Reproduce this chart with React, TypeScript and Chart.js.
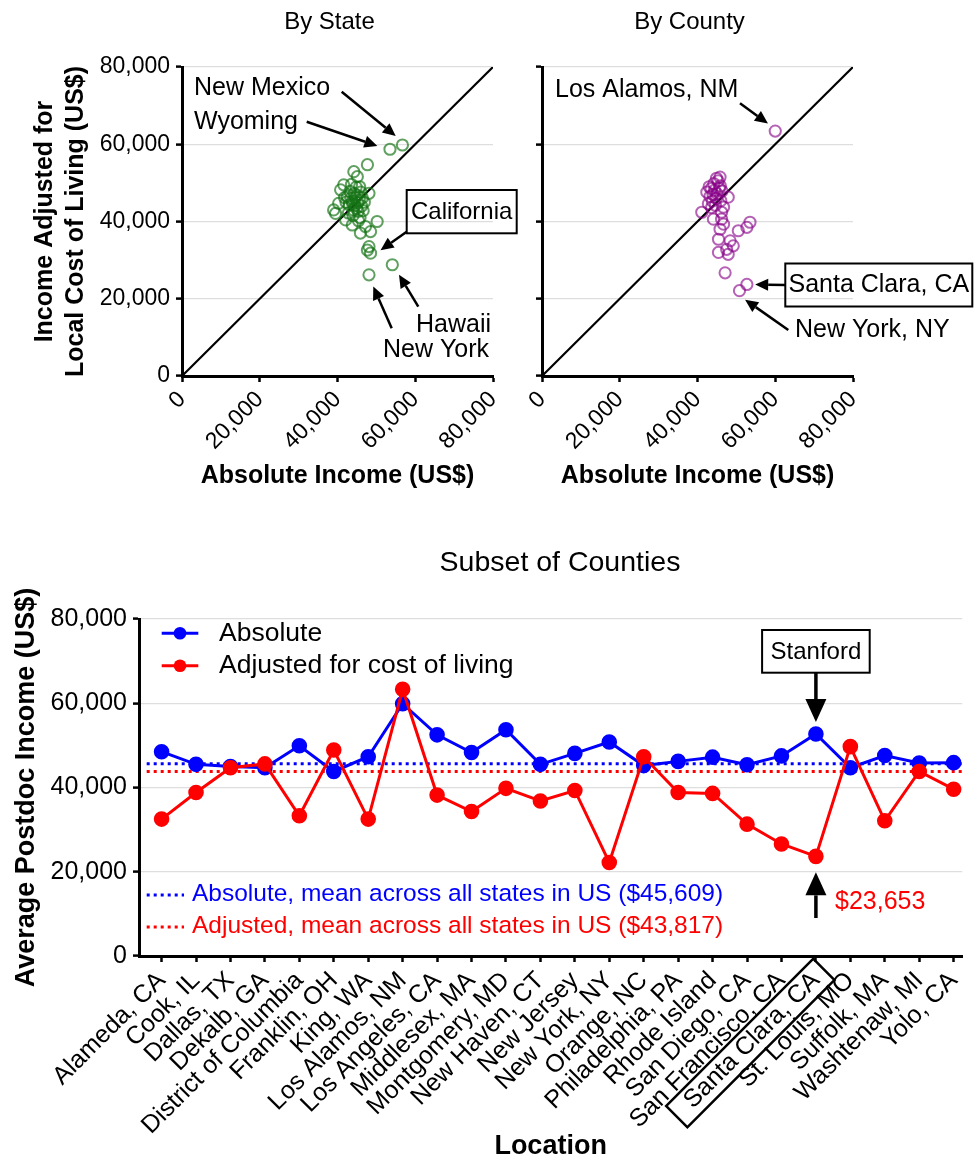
import React, { useEffect, useRef } from 'react';
import { Chart, registerables } from 'chart.js';

Chart.register(...registerables);

const FONT = '"Liberation Sans", Arial, Helvetica, sans-serif';

// ---------- Data ----------
const axisTicks = [0, 20000, 40000, 60000, 80000];
const diagonal = [0, 80000];

// By State: absolute income and cost-of-living adjusted income
const stateAbsolute = [
  56700, 53500, 47700, 44200, 45100, 40800, 41600, 39000, 39500, 42100, 48100, 50200, 45900, 48500, 48100, 47700, 48500, 54100, 48100, 47200, 43800, 40300,
  42500, 43200, 43800, 44500, 45000, 45600, 44100, 43000, 46200, 45300, 44800, 43600, 46000, 42800, 44000, 45800, 46600, 43400, 44600, 45200, 42200, 46400, 44300, 45700, 43900, 44900, 45400, 46900, 41800,
];
const stateAdjusted = [
  59800, 58700, 54700, 52900, 51600, 48200, 49500, 43000, 42100, 40400, 47300, 40000, 37000, 37400, 33500, 32600, 31800, 28800, 26200, 38700, 39100, 44700,
  46500, 47800, 45200, 44100, 46800, 45500, 43000, 44300, 44000, 42600, 48900, 49600, 47600, 42200, 41500, 41000, 42800, 46000, 46200, 44900, 45000, 46100, 47300, 49000, 44600, 43400, 40200, 45000, 46200,
];

// By County
const countyAbsolute = [
  60000, 52700, 50800, 45800, 41100, 42400, 47900, 46700, 44100, 46200, 53500, 52700, 50500, 45800, 45400, 48400, 49200, 47500, 47900, 45400, 47100, 46200, 46700,
  43500, 44200, 45000, 44800, 43800, 45600, 44000, 43200, 45300, 44600, 46000, 43000, 45900, 44400, 42800, 46300, 44900, 43600,
];
const countyAdjusted = [
  63400, 23700, 22100, 51500, 42400, 47600, 46300, 43700, 40600, 40600, 39800, 38500, 37600, 38000, 35400, 35000, 33700, 32800, 31500, 32000, 26700, 42400, 39300,
  48500, 49800, 47200, 46000, 45300, 48600, 47000, 46500, 50500, 44200, 45400, 49000, 49200, 48100, 44600, 47900, 51200, 43600,
];

// Subset of counties
const locations = [
  'Alameda, CA', 'Cook, IL', 'Dallas, TX', 'Dekalb, GA', 'District of Columbia', 'Franklin, OH', 'King, WA', 'Los Alamos, NM',
  'Los Angeles, CA', 'Middlesex, MA', 'Montgomery, MD', 'New Haven, CT', 'New Jersey', 'New York, NY', 'Orange, NC', 'Philadelphia, PA',
  'Rhode Island', 'San Diego, CA', 'San Francisco, CA', 'Santa Clara, CA', 'St. Louis, MO', 'Suffolk, MA', 'Washtenaw, MI', 'Yolo, CA',
];
const absoluteIncome = [
  48500, 45500, 45000, 44700, 49900, 43800, 47300, 59900, 52500, 48300, 53700, 45500,
  48100, 50800, 45200, 46200, 47200, 45400, 47500, 52700, 44700, 47600, 45800, 45900,
];
const adjustedIncome = [
  32500, 38800, 44700, 45600, 33300, 48900, 32500, 63300, 38200, 34300, 39800, 36800,
  39300, 22200, 47300, 38800, 38600, 31300, 26600, 23653, 49700, 32100, 43800, 39600,
];
const absoluteMean = 45609;
const adjustedMean = 43817;
const stanfordIndex = 19;

const BLUE = '#0000ff';
const RED = '#ff0000';
const GREEN = 'rgba(20,115,20,0.68)';
const PURPLE = 'rgba(135,0,135,0.62)';
const GRID = '#dedede';

const fmt = (v: any) => Number(v).toLocaleString('en-US');

function arrow(ctx: CanvasRenderingContext2D, x1: number, y1: number, x2: number, y2: number, head = 13, hw = 6, lw = 2.5) {
  const a = Math.atan2(y2 - y1, x2 - x1);
  const bx = x2 - head * Math.cos(a);
  const by = y2 - head * Math.sin(a);
  ctx.save();
  ctx.strokeStyle = '#000';
  ctx.fillStyle = '#000';
  ctx.lineWidth = lw;
  ctx.beginPath();
  ctx.moveTo(x1, y1);
  ctx.lineTo(bx, by);
  ctx.stroke();
  ctx.beginPath();
  ctx.moveTo(x2, y2);
  ctx.lineTo(bx + hw * Math.sin(a), by - hw * Math.cos(a));
  ctx.lineTo(bx - hw * Math.sin(a), by + hw * Math.cos(a));
  ctx.closePath();
  ctx.fill();
  ctx.restore();
}

function text(ctx: CanvasRenderingContext2D, s: string, x: number, y: number, size: number, align: CanvasTextAlign = 'left', color = '#000', weight = 'normal') {
  ctx.save();
  ctx.font = `${weight} ${size}px ${FONT}`;
  ctx.fillStyle = color;
  ctx.textAlign = align;
  ctx.textBaseline = 'middle';
  ctx.fillText(s, x, y);
  ctx.restore();
}

function scatterOptions(yTitle: boolean, padLeft: number, padRight: number, yWidth: number) {
  return {
    responsive: false,
    animation: false as const,
    devicePixelRatio: 1,
    events: [],
    layout: { padding: { top: 67, right: padRight, bottom: 0, left: padLeft } },
    plugins: { legend: { display: false }, tooltip: { enabled: false }, title: { display: false } },
    scales: {
      x: {
        type: 'linear' as const,
        min: 0,
        max: 80000,
        afterBuildTicks: (s: any) => { s.ticks = axisTicks.map((v) => ({ value: v })); },
        afterFit: (s: any) => { s.height = 124; },
        ticks: { minRotation: 45, maxRotation: 45, color: '#000', font: { size: 23, family: FONT }, padding: 4, callback: fmt },
        grid: { drawOnChartArea: false, tickColor: '#000', tickLength: 6, tickWidth: 2.5 },
        border: { color: '#000', width: 3 },
        title: { display: true, text: 'Absolute Income (US$)', color: '#000', font: { size: 25, weight: 'bold' as const, family: FONT, lineHeight: 1.2 }, padding: { top: 0, bottom: 9 } },
      },
      y: {
        type: 'linear' as const,
        min: 0,
        max: 80000,
        afterBuildTicks: (s: any) => { s.ticks = axisTicks.map((v) => ({ value: v })); },
        afterFit: (s: any) => { s.width = yWidth; },
        ticks: { color: '#000', font: { size: 23, family: FONT }, padding: 6, callback: yTitle ? fmt : () => '' },
        grid: { color: GRID, lineWidth: 1.2, tickColor: '#000', tickLength: 6, tickWidth: 2.5 },
        border: { color: '#000', width: 3 },
        title: {
          display: yTitle,
          text: ['Income Adjusted for', 'Local Cost of Living (US$)'],
          color: '#000',
          font: { size: 25, weight: 'bold' as const, family: FONT, lineHeight: 1.25 },
          padding: { top: 29, bottom: 0 },
        },
      },
    },
  };
}

export default function App() {
  const stateRef = useRef<HTMLCanvasElement>(null);
  const countyRef = useRef<HTMLCanvasElement>(null);
  const subsetRef = useRef<HTMLCanvasElement>(null);

  useEffect(() => {
    Chart.defaults.font.family = FONT;
    Chart.defaults.color = '#000';

    const stateAnno = {
      id: 'stateAnno',
      afterDraw(chart: any) {
        const { ctx, chartArea } = chart;
        const xs = chart.scales.x;
        const ys = chart.scales.y;
        const P = (i: number) => [xs.getPixelForValue(stateAbsolute[i]), ys.getPixelForValue(stateAdjusted[i])];
        text(ctx, 'By State', (chartArea.left + chartArea.right) / 2 - 8, 22, 24, 'center');
        text(ctx, 'New Mexico', 194, 88, 25);
        text(ctx, 'Wyoming', 194, 122, 25);
        let p = P(0);
        arrow(ctx, 341.7, 91.7, p[0] - 6.7, p[1] - 9);
        p = P(1);
        arrow(ctx, 306.7, 121.7, p[0] - 12.6, p[1] - 3.3);
        // California box
        ctx.save();
        ctx.lineWidth = 2;
        ctx.strokeStyle = '#000';
        ctx.strokeRect(406.7, 190, 110, 43.3);
        ctx.restore();
        text(ctx, 'California', 461.7, 212, 24, 'center');
        p = P(16);
        arrow(ctx, 406.7, 231.7, p[0] + 10, p[1] - 3);
        text(ctx, 'Hawaii', 491, 325, 25, 'right');
        text(ctx, 'New York', 489, 350, 25, 'right');
        p = P(17);
        arrow(ctx, 418.3, 306.7, p[0] + 6.7, p[1] + 10);
        p = P(18);
        arrow(ctx, 391.7, 328.3, p[0] + 4.3, p[1] + 11.8);
      },
    };

    const countyAnno = {
      id: 'countyAnno',
      afterDraw(chart: any) {
        const { ctx, chartArea } = chart;
        const xs = chart.scales.x;
        const ys = chart.scales.y;
        const P = (i: number) => [xs.getPixelForValue(countyAbsolute[i]), ys.getPixelForValue(countyAdjusted[i])];
        text(ctx, 'By County', (chartArea.left + chartArea.right) / 2 - 8, 22, 24, 'center');
        text(ctx, 'Los Alamos, NM', 35, 90, 25);
        let p = P(0);
        arrow(ctx, 220, 103.3, p[0] - 7.3, p[1] - 7.6);
        ctx.save();
        ctx.lineWidth = 2;
        ctx.strokeStyle = '#000';
        ctx.strokeRect(265.3, 263.5, 187, 43);
        ctx.restore();
        text(ctx, 'Santa Clara, CA', 358.8, 285.5, 25, 'center');
        p = P(1);
        arrow(ctx, 265.3, 285, p[0] + 8.3, p[1]);
        text(ctx, 'New York, NY', 275, 330, 25);
        p = P(2);
        arrow(ctx, 268.3, 330, p[0] + 5.6, p[1] + 9);
      },
    };

    const subsetAnno = {
      id: 'subsetAnno',
      beforeDatasetsDraw(chart: any) {
        const { ctx, chartArea } = chart;
        const ys = chart.scales.y;
        ctx.save();
        ctx.lineWidth = 3;
        ctx.setLineDash([3, 4]);
        [[absoluteMean, BLUE], [adjustedMean, RED]].forEach(([m, c]: any) => {
          const y = ys.getPixelForValue(m);
          ctx.strokeStyle = c;
          ctx.beginPath();
          ctx.moveTo(chartArea.left + 7.7, y);
          ctx.lineTo(chartArea.right, y);
          ctx.stroke();
        });
        ctx.restore();
      },
      afterDraw(chart: any) {
        const { ctx, chartArea } = chart;
        const xs = chart.scales.x;
        const ys = chart.scales.y;
        text(ctx, 'Subset of Counties', 560, 33, 28.5, 'center');
        // legend
        const legendRows: any[] = [
          [BLUE, 'Absolute', 103.3],
          [RED, 'Adjusted for cost of living', 135.7],
        ];
        legendRows.forEach(([c, s, y]) => {
          ctx.save();
          ctx.strokeStyle = c;
          ctx.fillStyle = c;
          ctx.lineWidth = 3;
          ctx.beginPath();
          ctx.moveTo(161.7, y);
          ctx.lineTo(198.3, y);
          ctx.stroke();
          ctx.beginPath();
          ctx.arc(180, y, 6.3, 0, Math.PI * 2);
          ctx.fill();
          ctx.restore();
          text(ctx, s, 219, y, 26.5);
        });
        const meanRows: any[] = [
          [BLUE, `Absolute, mean across all states in US ($${fmt(absoluteMean)})`, 364.5],
          [RED, `Adjusted, mean across all states in US ($${fmt(adjustedMean)})`, 396.5],
        ];
        meanRows.forEach(([c, s, y]) => {
          ctx.save();
          ctx.strokeStyle = c;
          ctx.lineWidth = 3;
          ctx.setLineDash([3, 4]);
          ctx.beginPath();
          ctx.moveTo(146.7, y + 0.5);
          ctx.lineTo(184, y + 0.5);
          ctx.stroke();
          ctx.restore();
          text(ctx, s, 192, y, 24.5, 'left', c);
        });
        // Stanford annotation
        const sx = xs.getPixelForValue(stanfordIndex);
        const syAbs = ys.getPixelForValue(absoluteIncome[stanfordIndex]);
        const syAdj = ys.getPixelForValue(adjustedIncome[stanfordIndex]);
        ctx.save();
        ctx.lineWidth = 2;
        ctx.strokeStyle = '#000';
        ctx.strokeRect(sx - 53.8, 100, 107.6, 42.7);
        ctx.restore();
        text(ctx, 'Stanford', sx, 122, 24, 'center');
        arrow(ctx, sx, 142.7, sx, syAbs - 12, 23, 10.5, 3.5);
        arrow(ctx, sx, 388, sx, syAdj + 16, 23, 10.5, 3.5);
        text(ctx, `$${fmt(adjustedIncome[stanfordIndex])}`, 835, 372, 25, 'left', RED);
        // box around the Santa Clara label
        ctx.save();
        ctx.translate(sx - 65.6, chartArea.bottom + 87);
        ctx.rotate(-Math.PI / 4);
        ctx.lineWidth = 2.5;
        ctx.strokeStyle = '#000';
        ctx.strokeRect(-104, -15, 208, 30);
        ctx.restore();
      },
    };

    const stateChart = new Chart(stateRef.current!, {
      type: 'scatter',
      data: {
        datasets: [
          {
            type: 'line',
            data: diagonal.map((v) => ({ x: v, y: v })),
            borderColor: '#000',
            borderWidth: 2.2,
            pointRadius: 0,
            order: 2,
          } as any,
          {
            data: stateAbsolute.map((x, i) => ({ x, y: stateAdjusted[i] })),
            borderColor: GREEN,
            backgroundColor: 'rgba(0,0,0,0)',
            pointRadius: 5.6,
            pointBorderWidth: 2,
            order: 1,
          },
        ],
      },
      options: scatterOptions(true, 0, 27, 182) as any,
      plugins: [stateAnno],
    });

    const countyChart = new Chart(countyRef.current!, {
      type: 'scatter',
      data: {
        datasets: [
          {
            type: 'line',
            data: diagonal.map((v) => ({ x: v, y: v })),
            borderColor: '#000',
            borderWidth: 2.2,
            pointRadius: 0,
            order: 2,
          } as any,
          {
            data: countyAbsolute.map((x, i) => ({ x, y: countyAdjusted[i] })),
            borderColor: PURPLE,
            backgroundColor: 'rgba(0,0,0,0)',
            pointRadius: 5.6,
            pointBorderWidth: 2,
            order: 1,
          },
        ],
      },
      options: scatterOptions(false, 0, 126, 22) as any,
      plugins: [countyAnno],
    });

    const subsetChart = new Chart(subsetRef.current!, {
      type: 'line',
      data: {
        datasets: [
          {
            label: 'Adjusted for cost of living',
            data: adjustedIncome.map((y, i) => ({ x: i, y })),
            borderColor: RED,
            backgroundColor: RED,
            pointBackgroundColor: RED,
            pointBorderColor: RED,
            borderWidth: 3,
            pointRadius: 6.3,
            order: 0,
          },
          {
            label: 'Absolute',
            data: absoluteIncome.map((y, i) => ({ x: i, y })),
            borderColor: BLUE,
            backgroundColor: BLUE,
            pointBackgroundColor: BLUE,
            pointBorderColor: BLUE,
            borderWidth: 3,
            pointRadius: 6.3,
            order: 1,
          },
        ],
      },
      options: {
        responsive: false,
        animation: false,
        devicePixelRatio: 1,
        events: [],
        layout: { padding: { top: 89, right: 13, bottom: 0, left: 0 } },
        plugins: { legend: { display: false }, tooltip: { enabled: false } },
        scales: {
          x: {
            type: 'linear',
            min: -0.656,
            max: 23.25,
            afterBuildTicks: (s: any) => { s.ticks = locations.map((_, i) => ({ value: i })); },
            afterFit: (s: any) => { s.height = 209; },
            ticks: {
              autoSkip: false,
              minRotation: 45,
              maxRotation: 45,
              color: '#000',
              font: { size: 25, family: FONT },
              padding: 4,
              callback: (v: any) => locations[Math.round(Number(v))] ?? '',
            },
            grid: { drawOnChartArea: false, tickColor: '#000', tickLength: 6, tickWidth: 2.5 },
            border: { color: '#000', width: 3 },
            title: { display: true, text: 'Location', color: '#000', font: { size: 27, weight: 'bold', family: FONT, lineHeight: 1.2 }, padding: { top: 0, bottom: 2 } },
          },
          y: {
            type: 'linear',
            min: 0,
            max: 80000,
            afterBuildTicks: (s: any) => { s.ticks = axisTicks.map((v) => ({ value: v })); },
            afterFit: (s: any) => { s.width = 139; },
            ticks: { color: '#000', font: { size: 25, family: FONT }, padding: 6, callback: fmt },
            grid: { color: GRID, lineWidth: 1.2, tickColor: '#000', tickLength: 6, tickWidth: 2.5 },
            border: { color: '#000', width: 3 },
            title: { display: true, text: 'Average Postdoc Income (US$)', color: '#000', font: { size: 27, weight: 'bold', family: FONT, lineHeight: 1.2 }, padding: { top: 10, bottom: 0 } },
          },
        },
      } as any,
      plugins: [subsetAnno],
    });

    return () => {
      stateChart.destroy();
      countyChart.destroy();
      subsetChart.destroy();
    };
  }, []);

  return (
    <div style={{ position: 'absolute', left: 0, top: 0, width: 979, height: 1165, background: '#fff' }}>
      <canvas ref={stateRef} width={520} height={500} style={{ position: 'absolute', left: 0, top: 0, width: 520, height: 500 }} />
      <canvas ref={countyRef} width={459} height={500} style={{ position: 'absolute', left: 520, top: 0, width: 459, height: 500 }} />
      <canvas ref={subsetRef} width={979} height={635} style={{ position: 'absolute', left: 0, top: 530, width: 979, height: 635 }} />
    </div>
  );
}
